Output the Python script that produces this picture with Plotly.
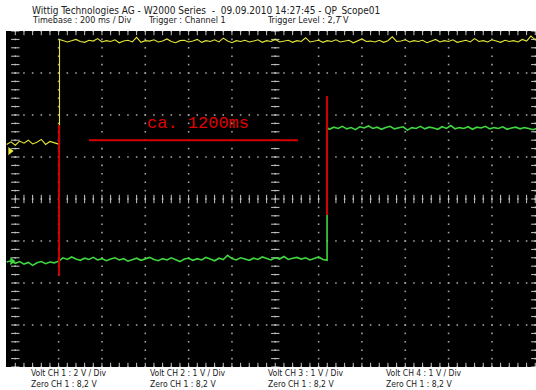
import numpy as np
import plotly.graph_objects as go

# ---- data (time in ms, amplitude in divisions) ----
t_step = 20
yellow_low_t = list(range(-40, 201, t_step))
yellow_low = [1.30, 1.36, 1.28, 1.38, 1.33, 1.40, 1.31, 1.35, 1.42, 1.30, 1.37, 1.33, 1.29]
yellow_edge_t = 204
yellow_edge = [1.30, 3.80]
yellow_high_t = list(range(220, 2421, t_step))
yellow_high = [
    3.78, 3.74, 3.77, 3.80, 3.75, 3.73, 3.78, 3.76, 3.82, 3.74,
    3.77, 3.75, 3.79, 3.72, 3.76, 3.78, 3.74, 3.85, 3.73, 3.77,
    3.76, 3.79, 3.74, 3.76, 3.81, 3.75, 3.72, 3.77, 3.78, 3.74,
    3.76, 3.80, 3.73, 3.77, 3.75, 3.79, 3.74, 3.83, 3.76, 3.72,
    3.77, 3.75, 3.78, 3.74, 3.76, 3.79, 3.73, 3.77, 3.75, 3.80,
    3.74, 3.76, 3.78, 3.73, 3.77, 3.75, 3.84, 3.74, 3.76, 3.78,
    3.73, 3.77, 3.75, 3.79, 3.74, 3.76, 3.78, 3.72, 3.77, 3.81,
    3.75, 3.76, 3.74, 3.78, 3.73, 3.77, 3.86, 3.75, 3.76, 3.79,
    3.74, 3.77, 3.75, 3.78, 3.72, 3.76, 3.80, 3.74, 3.77, 3.75,
    3.79, 3.73, 3.76, 3.78, 3.74, 3.82, 3.75, 3.77, 3.74, 3.79,
    3.76, 3.73, 3.78, 3.75, 3.77, 3.74, 3.80, 3.76, 3.88, 3.79, 3.77,
]

green_low_t = list(range(-40, 1421, t_step))
green_low = [
    -1.50, -1.47, -1.53, -1.49, -1.55, -1.51, -1.58, -1.52, -1.49, -1.54, -1.50, -1.52, -1.48,
    -1.40, -1.44, -1.38, -1.43, -1.46, -1.41, -1.44, -1.39, -1.45, -1.42,
    -1.47, -1.43, -1.40, -1.45, -1.42, -1.48, -1.44, -1.41, -1.46, -1.43,
    -1.39, -1.44, -1.47, -1.42, -1.45, -1.40, -1.44, -1.49, -1.43, -1.41,
    -1.46, -1.42, -1.45, -1.39, -1.43, -1.47, -1.41, -1.44, -1.34, -1.42,
    -1.45, -1.40, -1.43, -1.46, -1.41, -1.44, -1.38, -1.42, -1.45, -1.40,
    -1.43, -1.37, -1.44, -1.41, -1.39, -1.43, -1.40, -1.45, -1.41, -1.38, -1.44,
]
green_edge_t = 1439
green_edge = [-1.46, 1.70]
green_high_t = list(range(1450, 2411, t_step))
green_high = [
    1.66, 1.71, 1.68, 1.73, 1.67, 1.70, 1.65, 1.72, 1.69, 1.74,
    1.68, 1.71, 1.66, 1.70, 1.73, 1.67, 1.69, 1.72, 1.64, 1.70,
    1.68, 1.73, 1.67, 1.71, 1.69, 1.66, 1.72, 1.68, 1.75, 1.67,
    1.70, 1.68, 1.72, 1.66, 1.71, 1.69, 1.73, 1.67, 1.70, 1.68,
    1.72, 1.66, 1.69, 1.71, 1.67, 1.70, 1.68, 1.65, 1.69,
]

# channel zero markers (time, level)
yellow_marker = (-24, 1.14)
green_marker = (-15, -1.48)

# red measurement annotation
red_v1_t = 202
red_v1_y = [1.76, -1.83]
red_v2_t = 1439
red_v2_y = [2.45, -0.38]
red_h_t = [340, 1305]
red_h_y = 1.40
red_label = "ca. 1200ms"
red_label_pos = (843, 1.80)

header_1 = "Wittig Technologies AG - W2000 Series  -  09.09.2010 14:27:45 - QP_Scope01"
header_2 = ["Timebase : 200 ms / Div", "Trigger : Channel 1", "Trigger Level : 2,7 V"]
footer_1 = ["Volt CH 1 : 2 V / Div", "Volt CH 2 : 1 V / Div", "Volt CH 3 : 1 V / Div", "Volt CH 4 : 1 V / Div"]
footer_2 = ["Zero CH 1 : 8,2 V", "Zero CH 1 : 8,2 V", "Zero CH 1 : 8,2 V", "Zero CH 1 : 8,2 V"]

grid_x = list(range(0, 2401, 200))
grid_y = list(range(-4, 5))

# ---- figure ----
W, H = 536, 390
L, R, T, B = 6, 0, 31, 23
fig = go.Figure()

# grid dots
gx, gy = [], []
for x in grid_x:
    for y in np.arange(-4, 4.001, 0.2):
        gx.append(x); gy.append(y)
for y in grid_y:
    for x in range(0, 2401, 40):
        gx.append(x); gy.append(y)
fig.add_trace(go.Scatter(x=gx, y=gy, mode="markers", hoverinfo="skip",
                         marker=dict(symbol="square", size=1.6, color="#a0a0a0", line=dict(width=0))))

# tick marks on centre lines and borders
tx, ty = [], []
for y in (0, 4, -4):
    for x in range(0, 2401, 40):
        tx.append(x); ty.append(y)
fig.add_trace(go.Scatter(x=tx, y=ty, mode="markers", hoverinfo="skip",
                         marker=dict(symbol="line-ns", size=6, color="#c8c8c8", line=dict(width=1, color="#c8c8c8"))))
tx, ty = [], []
for x in (0, 1200, 2400):
    for y in np.arange(-4, 4.001, 0.2):
        tx.append(x); ty.append(y)
fig.add_trace(go.Scatter(x=tx, y=ty, mode="markers", hoverinfo="skip",
                         marker=dict(symbol="line-ew", size=6, color="#c8c8c8", line=dict(width=1, color="#c8c8c8"))))

# traces
fig.add_trace(go.Scatter(
    x=yellow_low_t + [yellow_edge_t, yellow_edge_t] + yellow_high_t,
    y=yellow_low + yellow_edge + yellow_high,
    mode="lines", line=dict(color="#e6e63a", width=1.1), hoverinfo="skip"))
fig.add_trace(go.Scatter(
    x=green_low_t + [green_edge_t, green_edge_t] + green_high_t,
    y=green_low + green_edge + green_high,
    mode="lines", line=dict(color="#3fd63f", width=1.6), hoverinfo="skip"))

# zero markers
fig.add_trace(go.Scatter(x=[yellow_marker[0]], y=[yellow_marker[1]], mode="markers", hoverinfo="skip",
                         marker=dict(symbol="triangle-right", size=7, color="#e6e63a")))
fig.add_trace(go.Scatter(x=[green_marker[0]], y=[green_marker[1]], mode="markers", hoverinfo="skip",
                         marker=dict(symbol="triangle-right", size=7, color="#3fd63f")))

# red measurement
red = "#d40000"
fig.add_trace(go.Scatter(x=[red_v1_t, red_v1_t], y=red_v1_y, mode="lines", line=dict(color=red, width=2), hoverinfo="skip"))
fig.add_trace(go.Scatter(x=[red_v2_t, red_v2_t], y=red_v2_y, mode="lines", line=dict(color=red, width=2), hoverinfo="skip"))
fig.add_trace(go.Scatter(x=red_h_t, y=[red_h_y, red_h_y], mode="lines", line=dict(color=red, width=2), hoverinfo="skip"))
fig.add_annotation(x=red_label_pos[0], y=red_label_pos[1], text=red_label, showarrow=False,
                   xanchor="center", yanchor="middle",
                   font=dict(family="Liberation Mono, Courier New, monospace", size=17, color="#e00000"))

# header / footer text
fam = "DejaVu Sans Condensed, sans-serif"
pw = W - L - R
ph = H - T - B


def px_to_paper(px, py):
    return (px - L) / pw, (H - B - py) / ph


def add_text(px, py, s, size):
    x, y = px_to_paper(px, py)
    fig.add_annotation(x=x, y=y, xref="paper", yref="paper", text=s, showarrow=False,
                       xanchor="left", yanchor="middle",
                       font=dict(family=fam, size=size, color="#202020"))


add_text(30, 10.5, header_1, 10)
for px, s in zip((30, 146, 265), header_2):
    add_text(px, 20, s, 9)
for px, s in zip((29, 148, 266, 384), footer_1):
    add_text(px, 372.5, s, 8.5)
for px, s in zip((29, 148, 266, 384), footer_2):
    add_text(px, 383.5, s, 8.5)

x0 = 0 + (L - 15.3) / 43.33 * 200
x1 = (W - R - 15.3) / 43.33 * 200
fig.update_layout(
    width=W, height=H, margin=dict(l=L, r=R, t=T, b=B, pad=0),
    paper_bgcolor="white", plot_bgcolor="black", showlegend=False,
    xaxis=dict(range=[x0, x1], visible=False, fixedrange=True),
    yaxis=dict(range=[-4, 4], visible=False, fixedrange=True),
)
fig.write_html("out.html", config={"displayModeBar": False},
               post_script="document.body.style.margin='0';document.body.style.overflow='hidden';")
